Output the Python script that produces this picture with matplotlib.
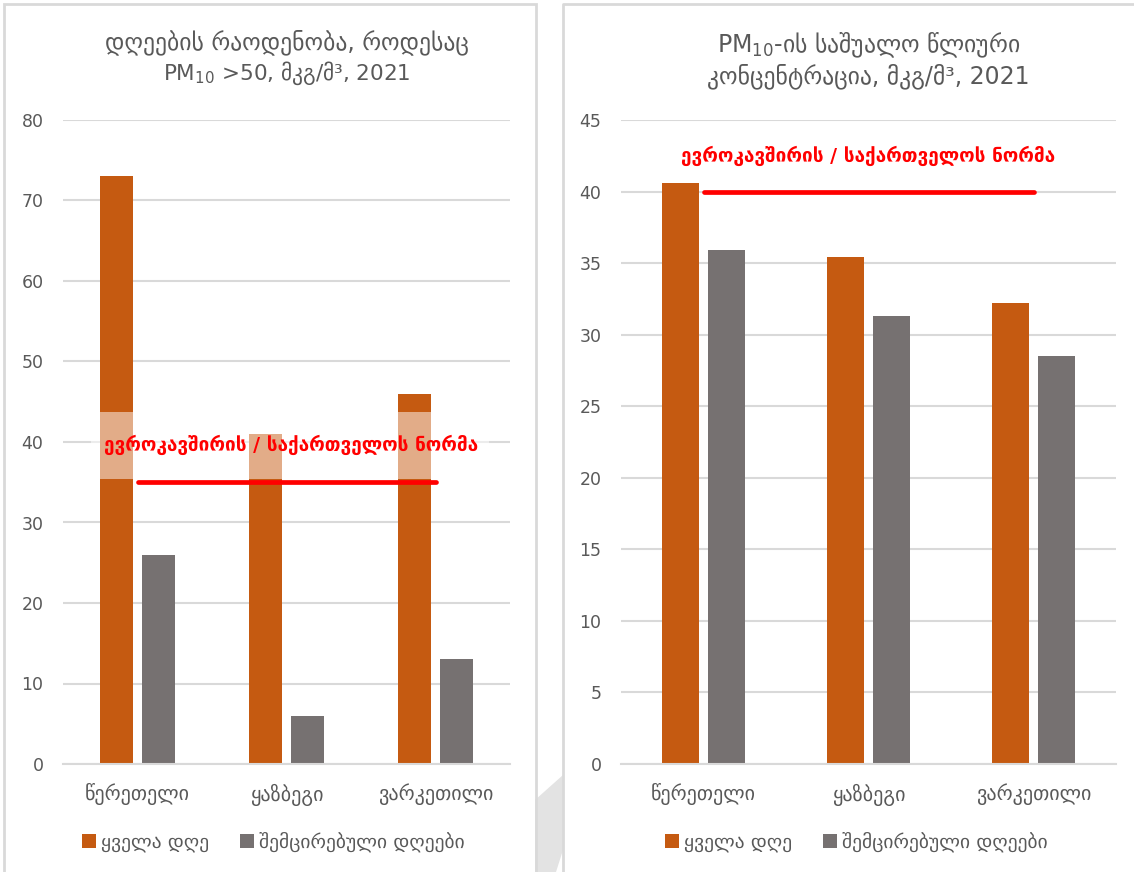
import numpy as np
import matplotlib.pyplot as plt
import matplotlib.patches as patches
from matplotlib.lines import Line2D

plt.rcParams['font.family'] = ['DejaVu Sans']

stations = ['წერეთელი', 'ყაზბეგი', 'ვარკეთილი']
series_names = ['ყველა დღე', 'შემცირებული დღეები']

# days with PM10 > 50
days_all = [73, 41, 46]
days_reduced = [26, 6, 13]
days_norm = 35

# annual mean PM10 concentration
mean_all = [40.6, 35.4, 32.2]
mean_reduced = [35.9, 31.3, 28.5]
mean_norm = 40

norm_label = 'ევროკავშირის / საქართველოს ნორმა'
title_left = ['დღეების რაოდენობა, როდესაც', 'PM$_{10}$ >50, მკგ/მ³, 2021']
title_right = ['PM$_{10}$-ის საშუალო წლიური', 'კონცენტრაცია, მკგ/მ³, 2021']

ORANGE = '#C55A11'
GRAY = '#767171'
GRID = '#D9D9D9'
TXT = '#595959'

W, H = 1134, 872
fig = plt.figure(figsize=(W / 100, H / 100), dpi=100)


def px_box(x0, x1, ytop, ybot):
    return [x0 / W, 1 - ybot / H, (x1 - x0) / W, (ybot - ytop) / H]


# panel frames and the grey shape between them
fig.add_artist(patches.Polygon([(535 / W, 1 - 800 / H), (563 / W, 1 - 775 / H), (563 / W, 1 - 850 / H),
                                (556 / W, 0), (535 / W, 0)], closed=True, transform=fig.transFigure,
                               facecolor='#E3E3E3', edgecolor='none', zorder=0))
fig.add_artist(patches.Rectangle((4 / W, -0.01), 532 / W, 1.01 - 4 / H, transform=fig.transFigure,
                                 facecolor='none', edgecolor=GRID, lw=2, zorder=1))
fig.add_artist(Line2D([563 / W, 563 / W, 1.0], [0, 1 - 4 / H, 1 - 4 / H], transform=fig.transFigure,
                      color=GRID, lw=2, zorder=1))


def draw_panel(ax, all_vals, red_vals, ymax, step, norm, title, title_y, title_sizes, bw, gap, leg_x):
    x = np.arange(len(stations))
    off = bw / 2 + gap / 2
    ax.bar(x - off, all_vals, bw, color=ORANGE, zorder=2, label=series_names[0])
    ax.bar(x + off, red_vals, bw, color=GRAY, zorder=2, label=series_names[1])
    ax.plot([0, 2], [norm, norm], color='red', lw=3.4, solid_capstyle='round', zorder=5)
    ax.set_xlim(-0.5, 2.5)
    ax.set_ylim(0, ymax)
    ax.set_yticks(np.arange(0, ymax + 1, step))
    ax.set_xticks(x)
    ax.set_xticklabels(stations, fontsize=14.5)
    ax.yaxis.grid(True, color=GRID, lw=1.5, zorder=0)
    ax.set_axisbelow(True)
    for s in ['top', 'right', 'left']:
        ax.spines[s].set_visible(False)
    ax.spines['bottom'].set_color(GRID)
    ax.spines['bottom'].set_linewidth(1.5)
    ax.tick_params(axis='both', length=0, colors=TXT)
    ax.tick_params(axis='y', pad=14, labelsize=12.5)
    ax.tick_params(axis='x', pad=14)
    # two-line title
    for line, y, fs in zip(title, title_y, title_sizes):
        ax.text(0.5, y, line, transform=ax.transAxes, ha='center', va='center',
                fontsize=fs, color=TXT)
    leg = ax.legend(loc='center', bbox_to_anchor=(leg_x, -0.121), ncol=2, frameon=False,
                    fontsize=14, handlelength=0.72, handleheight=0.72, handletextpad=0.25,
                    columnspacing=1.6)
    for t in leg.get_texts():
        t.set_color(TXT)


ax1 = fig.add_axes(px_box(63, 510, 120, 764))
draw_panel(ax1, days_all, days_reduced, 80, 10, days_norm, title_left, [1.121, 1.073],
           [17, 15.5], 0.22, 0.06, 0.47)
# label box with translucent white fill over the bars
ax1.add_patch(patches.Rectangle((-0.31, 35.4), 2.67, 8.3, facecolor='white', alpha=0.5,
                                edgecolor='none', zorder=3))
ax1.text(1.03, 39.6, norm_label, color='red', fontsize=13.7, fontweight='bold',
         ha='center', va='center', zorder=6)

ax2 = fig.add_axes(px_box(621, 1116, 120, 764))
draw_panel(ax2, mean_all, mean_reduced, 45, 5, mean_norm, title_right, [1.116, 1.068],
           [17, 17], 0.224, 0.06, 0.475)
ax2.text(1.0, 42.5, norm_label, color='red', fontsize=13.7, fontweight='bold',
         ha='center', va='center', zorder=6)

fig.savefig('out.png', dpi=100)
